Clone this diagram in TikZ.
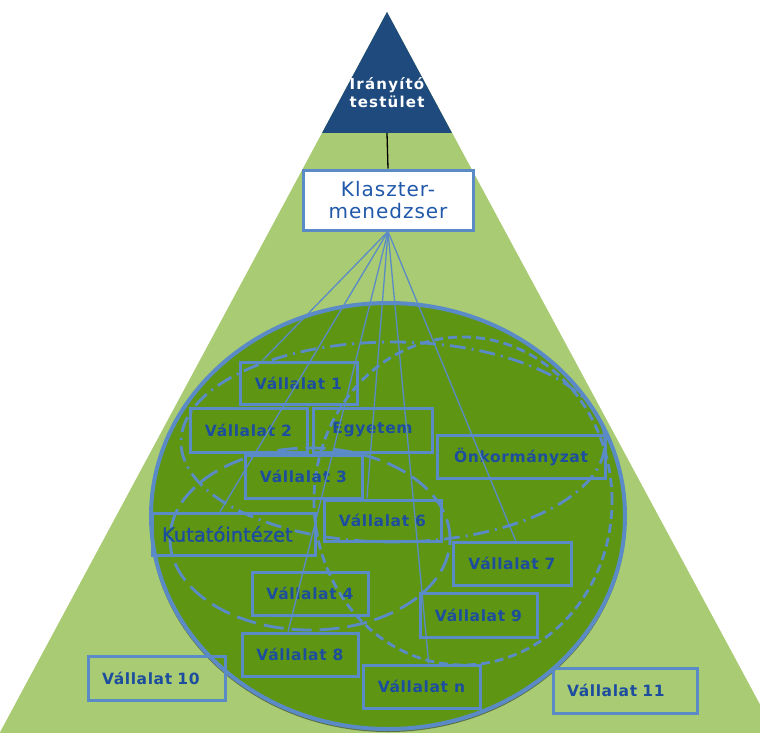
\documentclass[tikz,border=0pt]{standalone}
\usepackage{fontspec}
\setmainfont{DejaVu Sans}
\newfontfamily\spfont[LetterSpace=4]{DejaVu Sans}
\newfontfamily\klfont[LetterSpace=5]{DejaVu Sans}
\newfontfamily\gvfont[LetterSpace=8]{DejaVu Sans}
\newfontfamily\kutfont[FakeBold=1.2]{DejaVu Sans}
\usetikzlibrary{calc}
\definecolor{lgreen}{HTML}{A9CB73}
\definecolor{navy}{HTML}{1F4A7E}
\definecolor{dgreen}{HTML}{5E9614}
\definecolor{lblue}{HTML}{5B8BC6}
\definecolor{tblue}{HTML}{1D4E9E}
\definecolor{kblue}{HTML}{2058AA}
\tikzset{
  vbox/.style={draw=lblue, line width=3pt, inner sep=0pt, minimum height=43pt,
    text=tblue, font=\spfont\bfseries\fontsize{15.5}{17}\selectfont},
  vleft/.style={vbox, inner xsep=14pt, align=left},
  fan/.style={draw=lblue, line width=1.3pt},
  ringA/.style={draw=lblue, line width=2.8pt, dash pattern=on 9pt off 5pt},
  ringB/.style={draw=lblue, line width=2.8pt, dash pattern=on 16pt off 6pt on 2pt off 6pt},
  ringC/.style={draw=lblue, line width=2.8pt, dash pattern=on 20pt off 8pt},
}
\begin{document}
\begin{tikzpicture}[x=1pt,y=-1pt]
\useasboundingbox (0,0) rectangle (760,733);
\begin{scope}
  \clip (0,0) rectangle (760,733);
  \fill[lgreen] (387,12) -- (-2,736) -- (777,736) -- cycle;
  % shadow of the big ellipse
  \fill[black, opacity=0.45] (388,519) ellipse [x radius=238pt, y radius=213pt];
  \filldraw[fill=dgreen, draw=lblue, line width=4pt] (388,516) ellipse [x radius=237pt, y radius=213pt];
\end{scope}
% governing body
\fill[navy] (387,12) -- (322,133) -- (452,133) -- cycle;
\coordinate (gb) at (387,133);
\node[text=white, align=center, font=\gvfont\bfseries\fontsize{15}{18}\selectfont] (gov) at (387,93) {Irányító\\testület};
% cluster manager
\node[draw=lblue, fill=white, line width=3pt, minimum width=170pt, minimum height=60pt, inner sep=0pt,
  align=center, text=kblue, font=\klfont\fontsize{20}{22}\selectfont] (klasz) at (388,200) {Klaszter-\\menedzser};
\draw[black, line width=1.3pt] (gb) -- (klasz.north);
% dashed rings
\draw[ringB] (393,442) ellipse [x radius=212pt, y radius=100pt];
\draw[ringA] (463,501) ellipse [x radius=149pt, y radius=164pt];
\draw[ringC] (310,539) ellipse [x radius=140pt, y radius=91pt];
% boxes
\node[vbox, minimum width=117pt, minimum height=42pt] (v1) at (298.5,383) {Vállalat 1};
\node[vbox, minimum width=117pt, minimum height=44pt] (v2) at (248.5,430) {Vállalat 2};
\node[vbox, minimum width=119pt, minimum height=44pt] (egy) at (372.5,430) {Egyetem};
\node[vbox, minimum width=117pt] (v3) at (303.5,476.5) {Vállalat 3};
\node[vbox, minimum width=117pt, minimum height=41pt] (v6) at (382.5,520.5) {Vállalat 6};
\node[vbox, minimum width=168pt] (onk) at (521,456.5) {Önkormányzat};
\node[draw=lblue, line width=3pt, minimum height=42pt, inner sep=0pt, inner xsep=10pt, text width=143pt, align=left,
  text=tblue, font=\kutfont\fontsize{19.5}{21}\selectfont] (kut) at (233.5,534) {Kutatóintézet};
\node[vbox, minimum width=116pt] (v4) at (310,593.5) {Vállalat 4};
\node[vbox, minimum width=116pt] (v8) at (300,654.5) {Vállalat 8};
\node[vleft, text width=109pt, minimum height=44pt] (v10) at (156.5,678) {Vállalat 10};
\node[vbox, minimum width=117pt] (vn) at (421.5,686.5) {Vállalat n};
\node[vbox, minimum width=118pt] (v7) at (512,563.5) {Vállalat 7};
\node[vbox, minimum width=117pt, minimum height=44pt] (v9) at (478.5,615) {Vállalat 9};
\node[vleft, text width=116pt, minimum height=45pt] (v11) at (625,690.5) {Vállalat 11};
% fan of links
\draw[fan] (klasz.south) -- ($(v1.north west)!0.2!(v1.north east)$);
\draw[fan] (klasz.south) -- ($(kut.north west)!0.42!(kut.north east)$);
\draw[fan] (klasz.south) -- ($(v8.north west)!0.4!(v8.north east)$);
\draw[fan] (klasz.south) -- ($(v6.north west)!0.37!(v6.north east)$);
\draw[fan] (klasz.south) -- ($(vn.north west)!0.56!(vn.north east)$);
\draw[fan] (klasz.south) -- ($(v7.north west)!0.53!(v7.north east)$);
\end{tikzpicture}
\end{document}
